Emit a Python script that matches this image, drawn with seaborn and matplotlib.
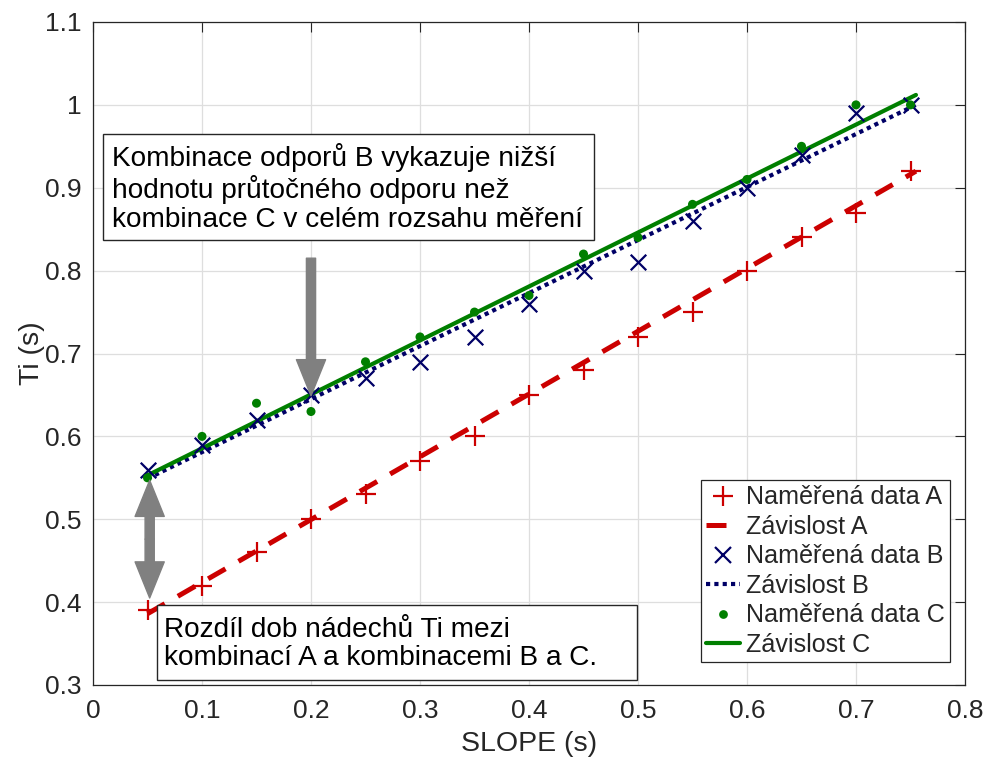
import matplotlib
matplotlib.use("Agg")
import matplotlib.pyplot as plt
import seaborn as sns
import numpy as np
from matplotlib.lines import Line2D
from matplotlib.patches import Rectangle

# ---- data ----
slope = [0.05, 0.10, 0.15, 0.20, 0.25, 0.30, 0.35, 0.40, 0.45, 0.50, 0.55, 0.60, 0.65, 0.70, 0.75]
ti_A = [0.39, 0.42, 0.46, 0.50, 0.53, 0.57, 0.60, 0.65, 0.68, 0.72, 0.75, 0.80, 0.84, 0.87, 0.92]
ti_B = [0.56, 0.59, 0.62, 0.65, 0.67, 0.69, 0.72, 0.76, 0.80, 0.81, 0.86, 0.90, 0.94, 0.99, 1.00]
ti_C = [0.55, 0.60, 0.64, 0.63, 0.69, 0.72, 0.75, 0.77, 0.82, 0.84, 0.88, 0.91, 0.95, 1.00, 1.00]
fit_x = [0.05, 0.755]
fit_A = [0.386, 0.920]
fit_B = [0.549, 1.000]
fit_C = [0.553, 1.012]
xticks = [0, 0.1, 0.2, 0.3, 0.4, 0.5, 0.6, 0.7, 0.8]
xtick_labels = ["0", "0.1", "0.2", "0.3", "0.4", "0.5", "0.6", "0.7", "0.8"]
yticks = [0.3, 0.4, 0.5, 0.6, 0.7, 0.8, 0.9, 1.0, 1.1]
ytick_labels = ["0.3", "0.4", "0.5", "0.6", "0.7", "0.8", "0.9", "1", "1.1"]
legend_labels = ["Naměřená data A", "Závislost A", "Naměřená data B",
                 "Závislost B", "Naměřená data C", "Závislost C"]
note_top = "Kombinace odporů B vykazuje nižší\nhodnotu průtočného odporu než\nkombinace C v celém rozsahu měření"
note_bottom = "Rozdíl dob nádechů Ti mezi\nkombinací A a kombinacemi B a C."

RED = "#CC0000"
NAVY = "#000066"
GREEN = "#007F00"
AXC = "#262626"
W, H = 993, 760

sns.set_theme(style="white")
plt.rcParams["font.family"] = ["Liberation Sans", "DejaVu Sans"]

fig = plt.figure(figsize=(W / 100, H / 100), dpi=100)
ax = fig.add_axes([93/W, 75/H, 872/W, 663/H])

# fit lines
sns.lineplot(x=fit_x, y=fit_A, ax=ax, color=RED, lw=3.6, legend=False)
ax.lines[-1].set_dashes((4, 3))
sns.lineplot(x=fit_x, y=fit_B, ax=ax, color=NAVY, lw=3, legend=False)
ax.lines[-1].set_dashes((1, 1))
sns.lineplot(x=fit_x, y=fit_C, ax=ax, color=GREEN, lw=3, legend=False)

# measured data
sns.scatterplot(x=slope, y=ti_A, ax=ax, marker="+", s=220, color=RED, linewidth=1.6, zorder=3)
sns.scatterplot(x=slope, y=ti_B, ax=ax, marker="x", s=125, color=NAVY, linewidth=1.6, zorder=3)
sns.scatterplot(x=slope, y=ti_C, ax=ax, marker="o", s=42, color=GREEN, edgecolor="none", zorder=3)

ax.set_xlim(0, 0.8)
ax.set_ylim(0.3, 1.1)
ax.set_xticks(xticks)
ax.set_xticklabels(xtick_labels)
ax.set_yticks(yticks)
ax.set_yticklabels(ytick_labels)
ax.grid(True, color="#dedede", lw=0.9)
ax.set_axisbelow(True)
ax.tick_params(direction="in", length=7, width=0.8, top=True, right=True,
               colors=AXC, labelsize=19)
ax.tick_params(axis="x", pad=10)
ax.tick_params(axis="y", pad=8)
for sp in ax.spines.values():
    sp.set_color(AXC)
    sp.set_linewidth(0.9)
ax.set_xlabel("SLOPE (s)", fontsize=20.5, color=AXC, labelpad=6)
ax.set_ylabel("Ti (s)", fontsize=20.5, color=AXC, labelpad=0)

# legend
handles = [
    Line2D([], [], ls="none", marker="+", color=RED, markersize=14.5, mew=1.6),
    Line2D([], [], color=RED, lw=3.6, dashes=(4, 3)),
    Line2D([], [], ls="none", marker="x", color=NAVY, markersize=11, mew=1.6),
    Line2D([], [], color=NAVY, lw=3, dashes=(1, 1)),
    Line2D([], [], ls="none", marker="o", color=GREEN, markersize=6.3, mec="none"),
    Line2D([], [], color=GREEN, lw=3),
]
leg = ax.legend(handles, legend_labels, loc="lower right",
                bbox_to_anchor=(950/W, 1 - 662/H), bbox_transform=fig.transFigure,
                borderaxespad=0, fontsize=18.1, frameon=True, fancybox=False,
                handlelength=1.35, handletextpad=0.25, labelspacing=0.22,
                borderpad=0.2, framealpha=1)
leg.get_frame().set_edgecolor(AXC)
leg.get_frame().set_linewidth(0.9)

# annotation boxes (fixed size text boxes)
ax.add_patch(Rectangle((103/W, 1 - 240/H), (594 - 103)/W, (240 - 134)/H,
                       transform=fig.transFigure, fc="white", ec=AXC, lw=1.0,
                       clip_on=False, zorder=5))
ax.text(112/W, 1 - 143/H, note_top, transform=fig.transFigure, ha="left", va="top",
        fontsize=20.2, color="black", linespacing=1.14, zorder=6)
ax.add_patch(Rectangle((157/W, 1 - 680/H), (637 - 157)/W, (680 - 605)/H,
                       transform=fig.transFigure, fc="white", ec=AXC, lw=1.0,
                       clip_on=False, zorder=5))
ax.text(164/W, 1 - 617/H, note_bottom, transform=fig.transFigure, ha="left", va="top",
        fontsize=20.2, color="black", linespacing=1.12, zorder=6)

# arrows
arrow_style = "simple,head_length=1.3,head_width=1.05,tail_width=0.33"
for tip, tail in [((0.2, 0.649), (0.2, 0.815)),
                  ((0.052, 0.547), (0.052, 0.476)),
                  ((0.052, 0.405), (0.052, 0.476))]:
    ax.annotate("", xy=tip, xytext=tail,
                arrowprops=dict(arrowstyle=arrow_style, color="#808080",
                                shrinkA=0, shrinkB=0, mutation_scale=20), zorder=6)

fig.savefig("out.png", dpi=100)
